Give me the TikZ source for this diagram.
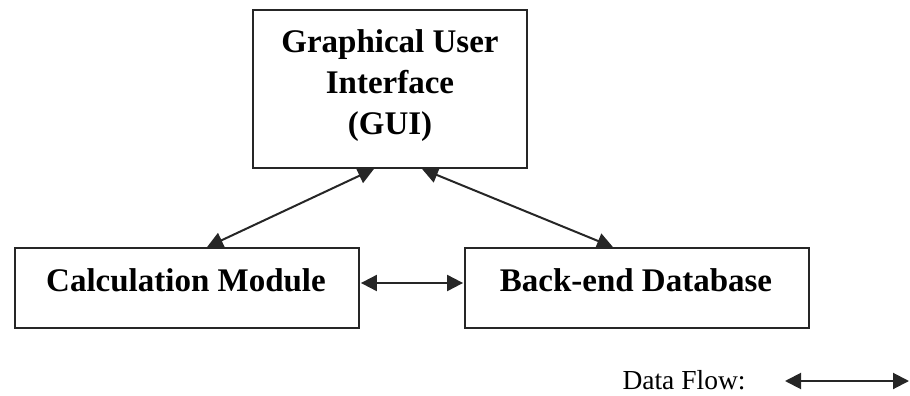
\documentclass[tikz,border=0pt]{standalone}
\usepackage{fontspec}
\setmainfont{Liberation Serif}
\usetikzlibrary{arrows.meta}
\begin{document}
\begin{tikzpicture}[x=1pt,y=-1pt,
  box/.style={draw=black!85,line width=1.8pt,rectangle,inner sep=0pt},
  lbl/.style={font=\bfseries\fontsize{33}{41}\selectfont,align=center,inner sep=0pt},
  flow/.style={line width=2pt,black!85,{Triangle[length=16pt,width=16pt]}-{Triangle[length=16pt,width=16pt]}}]
\useasboundingbox (0,0) rectangle (910,396);
\node[box,minimum width=274pt,minimum height=158pt] (gui) at (390,89) {};
\node[lbl] (guit) at (390,86) {Graphical User\\Interface\\(GUI)};
\node[box,minimum width=344pt,minimum height=80pt] (calc) at (187,288) {};
\node[lbl] (calct) at (186,280) {Calculation Module};
\node[box,minimum width=344pt,minimum height=80pt] (db) at (637,288) {};
\node[lbl] (dbt) at (636,280) {Back-end Database};
\draw[flow] ([xshift=-16pt]gui.south) -- ([xshift=20pt]calc.north);
\draw[flow] ([xshift=32pt]gui.south) -- ([xshift=-24pt]db.north);
\draw[flow] ([xshift=1pt,yshift=5pt]calc.east) -- ([xshift=-1pt,yshift=5pt]db.west);
\node[font=\fontsize{27.5}{30}\selectfont,inner sep=0pt] (legend) at (684,380) {Data Flow:};
\coordinate (la) at (785,381);
\coordinate (lb) at (909,381);
\draw[flow] (la) -- (lb);
\end{tikzpicture}
\end{document}
